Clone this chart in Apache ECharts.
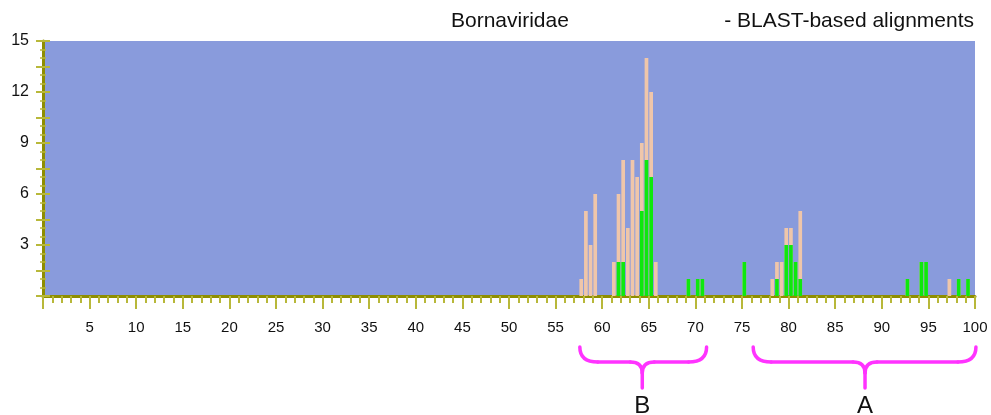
<!DOCTYPE html>
<html>
<head>
<meta charset="utf-8">
<script src="https://cdn.jsdelivr.net/npm/echarts@6/dist/echarts.min.js"></script>
<style>
html,body{margin:0;padding:0;background:#fff;}
#chart{width:991px;height:415px;}
</style>
</head>
<body>
<div id="chart"></div>
<script>
// Bin centres (0.5-wide bins along the 0-100 axis)
const bins = [57.75, 58.25, 58.75, 59.25, 61.25, 61.75, 62.25, 62.75, 63.25, 63.75, 64.25, 64.75, 65.25, 65.75,
  69.25, 70.25, 70.75, 75.25, 78.25, 78.75, 79.25, 79.75, 80.25, 80.75, 81.25, 92.75, 94.25, 94.75, 97.25, 98.25, 99.25];
// Total alignments per bin (peach bars)
const totalCounts = [1, 5, 3, 6, 2, 6, 8, 4, 8, 7, 9, 14, 12, 2,
  1, 1, 1, 2, 1, 2, 2, 4, 4, 2, 5, 1, 2, 2, 1, 1, 1];
// Green portion per bin
const greenCounts = [0, 0, 0, 0, 0, 2, 2, 0, 0, 0, 5, 8, 7, 0,
  1, 1, 1, 2, 0, 1, 0, 3, 3, 2, 1, 1, 2, 2, 0, 1, 1];
// Region annotations: [label, start, end, centre] in axis units
const regions = [['B', 57.6, 71.2, 64.3], ['A', 76.2, 100.1, 88.2]];
const titleLeft = 'Bornaviridae';
const titleRight = '- BLAST-based alignments';

const FONT = 'Liberation Sans, Arial, sans-serif';
const chart = echarts.init(document.getElementById('chart'), null, {renderer: 'canvas'});

const totalData = bins.map((b, i) => [b, totalCounts[i]]);
const greenData = bins.map((b, i) => [b, greenCounts[i]]).filter(d => d[1] > 0);

const yLabelFmt = v => (v > 0 && Math.abs(v / 3 - Math.round(v / 3)) < 1e-6) ? String(Math.round(v)) : '';

const axisColor = '#8e8e00';
const tickColor = '#b8b83a';

chart.setOption({
  animation: false,
  title: [
    {text: titleLeft, left: 451, top: 11, padding: 0,
     textStyle: {fontFamily: FONT, fontSize: 21, fontWeight: 'normal', color: '#111'}},
    {text: titleRight, right: 17, top: 11, padding: 0,
     textStyle: {fontFamily: FONT, fontSize: 21, fontWeight: 'normal', color: '#111'}}
  ],
  grid: {left: 43, right: 16, top: 41, bottom: 119, show: true, backgroundColor: '#899bdc', borderWidth: 0},
  xAxis: {
    type: 'value', min: 0, max: 100, interval: 5,
    axisLine: {show: true, lineStyle: {color: axisColor, width: 3}},
    axisTick: {show: true, length: 13, lineStyle: {color: tickColor, width: 2}},
    minorTick: {show: true, splitNumber: 5, length: 7, lineStyle: {color: tickColor, width: 2}},
    splitLine: {show: false},
    axisLabel: {margin: 24, fontFamily: FONT, fontSize: 15, color: '#111',
      formatter: v => v === 0 ? '' : String(v)}
  },
  yAxis: [
    {
      type: 'value', min: 0, max: 15, interval: 1.5, position: 'left',
      axisLine: {show: true, lineStyle: {color: axisColor, width: 3}},
      axisTick: {show: true, length: 7, lineStyle: {color: tickColor, width: 2}},
      minorTick: {show: true, splitNumber: 3, length: 3, lineStyle: {color: tickColor, width: 1.5}},
      splitLine: {show: false},
      axisLabel: {margin: 14, fontFamily: FONT, fontSize: 16, color: '#111', formatter: yLabelFmt}
    },
    {
      type: 'value', min: 0, max: 15, interval: 1.5, position: 'left', offset: 0,
      axisLine: {show: false},
      axisTick: {show: true, inside: true, length: 7, lineStyle: {color: tickColor, width: 2}},
      minorTick: {show: true, splitNumber: 3, length: 3, lineStyle: {color: tickColor, width: 1.5}},
      splitLine: {show: false},
      axisLabel: {show: false}
    }
  ],
  series: [
    {type: 'bar', name: 'all', data: totalData, barWidth: 3.7, barGap: '-100%',
     itemStyle: {color: '#efc6aa'}},
    {type: 'bar', name: 'green', data: greenData, barWidth: 3.7, barGap: '-100%',
     itemStyle: {color: '#0ee80e'}}
  ]
});

// Brace annotations positioned from axis values
const graphics = [];
const braceStyle = {fill: null, stroke: '#ff33ff', lineWidth: 3.5, lineCap: 'round'};
const curve = (x1, y1, cx, cy, x2, y2) => ({type: 'bezierCurve',
  shape: {x1, y1, x2, y2, cpx1: cx, cpy1: cy}, style: braceStyle});
const seg = (x1, y1, x2, y2) => ({type: 'line', shape: {x1, y1, x2, y2}, style: braceStyle});
regions.forEach(([label, s, e, c]) => {
  const L = chart.convertToPixel({xAxisIndex: 0}, s);
  const R = chart.convertToPixel({xAxisIndex: 0}, e);
  const C = chart.convertToPixel({xAxisIndex: 0}, c);
  const yTop = 347, yMid = 362, yCusp = 373, yEnd = 388, r = 18, rc = 12;
  graphics.push(curve(L, yTop, L, yMid, L + r, yMid));
  graphics.push(seg(L + r, yMid, C - rc, yMid));
  graphics.push(curve(C - rc, yMid, C, yMid, C, yCusp));
  graphics.push(curve(C + rc, yMid, C, yMid, C, yCusp));
  graphics.push(seg(C, yCusp, C, yEnd));
  graphics.push(seg(C + rc, yMid, R - r, yMid));
  graphics.push(curve(R - r, yMid, R, yMid, R, yTop));
  graphics.push({type: 'text', x: C, y: 406,
    style: {text: label, fontFamily: FONT, fontSize: 24, fill: '#111', align: 'center', verticalAlign: 'middle'}});
});
chart.setOption({graphic: graphics});
</script>
</body>
</html>
